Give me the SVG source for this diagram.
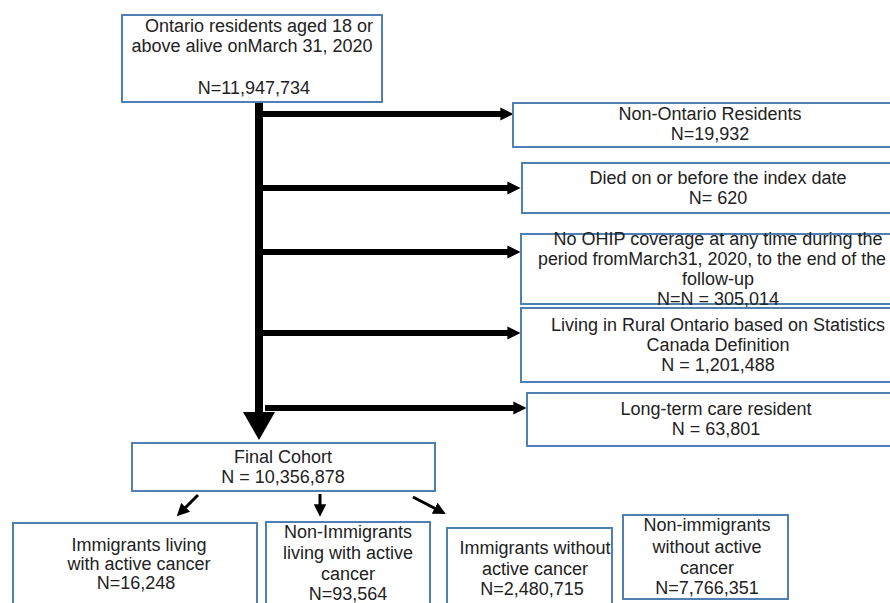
<svg xmlns="http://www.w3.org/2000/svg" width="890" height="603" viewBox="0 0 890 603">
<defs>
<style>
.box{fill:#fff;stroke:#4f7fb3;stroke-width:2}
text{font-family:"Liberation Sans",Arial,sans-serif;font-size:18px;fill:#222;text-anchor:middle}
.thick{stroke:#000;stroke-width:6;fill:none}
.thin{stroke:#000;stroke-width:3;fill:none}
</style>
<marker id="ah" viewBox="0 0 10 10" refX="2" refY="5" markerWidth="2.2" markerHeight="2.2" orient="auto" markerUnits="strokeWidth"><path d="M0,0 L10,5 L0,10 z" fill="#000"/></marker>
<marker id="as" viewBox="0 0 10 10" refX="3" refY="5" markerWidth="4.2" markerHeight="4.2" orient="auto" markerUnits="strokeWidth"><path d="M0,0 L10,5 L0,10 z" fill="#000"/></marker>
</defs>
<rect width="890" height="603" fill="#fff"/>
<g id="connectors">
<line x1="259" y1="101" x2="259" y2="414" stroke="#000" stroke-width="8"/>
<polygon points="243,412 275,412 259,440" fill="#000"/>
<line class="thick" x1="263" y1="114" x2="503" y2="114" marker-end="url(#ah)"/>
<line class="thick" x1="263" y1="188" x2="510" y2="188" marker-end="url(#ah)"/>
<line class="thick" x1="263" y1="252" x2="510" y2="252" marker-end="url(#ah)"/>
<line class="thick" x1="263" y1="333" x2="510" y2="333" marker-end="url(#ah)"/>
<line class="thick" x1="265" y1="408" x2="516" y2="408" marker-end="url(#ah)"/>
<line class="thin" x1="198" y1="495" x2="183" y2="510" marker-end="url(#as)"/>
<line class="thin" x1="320" y1="494" x2="320" y2="508" marker-end="url(#as)"/>
<line class="thin" x1="413" y1="497" x2="438" y2="510" marker-end="url(#as)"/>
</g>
<g id="start">
<rect class="box" x="122" y="15" width="260" height="87"/>
<text x="259" y="32">Ontario residents aged 18 or</text>
<text x="252" y="52">above alive onMarch 31, 2020</text>
<text x="254" y="94">N=11,947,734</text>
</g>
<g id="nonontario">
<rect class="box" x="513" y="103" width="390" height="44"/>
<text x="710" y="120">Non-Ontario Residents</text>
<text x="710" y="140">N=19,932</text>
</g>
<g id="died">
<rect class="box" x="522" y="163" width="380" height="50"/>
<text x="718" y="184">Died on or before the index date</text>
<text x="718" y="204">N= 620</text>
</g>
<g id="noohip">
<rect class="box" x="521" y="234" width="380" height="70"/>
<text x="718" y="245">No OHIP coverage at any time during the</text>
<text x="712" y="265" textLength="348" lengthAdjust="spacingAndGlyphs">period fromMarch31, 2020, to the end of the</text>
<text x="718" y="285">follow-up</text>
<text x="718" y="305">N=N = 305,014</text>
</g>
<g id="rural">
<rect class="box" x="521" y="308" width="380" height="74"/>
<text x="718" y="331">Living in Rural Ontario based on Statistics</text>
<text x="718" y="351">Canada Definition</text>
<text x="718" y="371">N = 1,201,488</text>
</g>
<g id="ltc">
<rect class="box" x="527" y="393" width="375" height="53"/>
<text x="716" y="415">Long-term care resident</text>
<text x="716" y="435">N = 63,801</text>
</g>
<g id="final">
<rect class="box" x="132" y="443" width="303" height="48"/>
<text x="283" y="463">Final Cohort</text>
<text x="283" y="483">N = 10,356,878</text>
</g>
<g id="imm-cancer">
<rect class="box" x="13" y="523" width="244" height="90"/>
<text x="139" y="551">Immigrants living</text>
<text x="139" y="570">with active cancer</text>
<text x="136" y="589">N=16,248</text>
</g>
<g id="nonimm-cancer">
<rect class="box" x="266" y="522" width="164" height="90"/>
<text x="348" y="538">Non-Immigrants</text>
<text x="348" y="559">living with active</text>
<text x="348" y="580">cancer</text>
<text x="348" y="600">N=93,564</text>
</g>
<g id="imm-nocancer">
<rect class="box" x="447" y="528" width="165" height="85"/>
<text x="535" y="554">Immigrants without</text>
<text x="535" y="575">active cancer</text>
<text x="532" y="595">N=2,480,715</text>
</g>
<g id="nonimm-nocancer">
<rect class="box" x="623" y="515" width="165" height="84"/>
<text x="707" y="531">Non-immigrants</text>
<text x="707" y="553">without active</text>
<text x="707" y="574">cancer</text>
<text x="707" y="594">N=7,766,351</text>
</g>
</svg>
